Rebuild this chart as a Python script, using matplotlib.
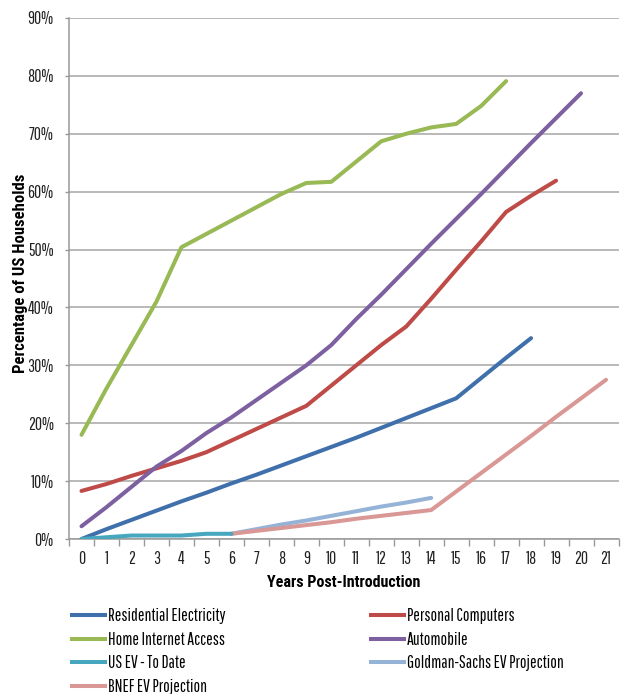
import numpy as np
import matplotlib.pyplot as plt
from matplotlib.lines import Line2D
from matplotlib.ticker import FuncFormatter, FixedLocator

plt.rcParams['font.family'] = ['Pathway Gothic One', 'DejaVu Sans']
title_font = ['Roboto Condensed', 'DejaVu Sans']

# share of US households (%) by years since introduction
electricity = [0, 1.7, 3.3, 4.9, 6.5, 8.0, 9.6, 11.1, 12.7, 14.3, 15.9, 17.5, 19.2,
               20.9, 22.6, 24.3, 27.8, 31.3, 34.7]
computers = [8.3, 9.5, 10.9, 12.2, 13.5, 15.0, 17.0, 19.0, 21.0, 23.0, 26.5, 30.0,
             33.5, 36.7, 41.5, 46.5, 51.4, 56.5, 59.3, 61.9]
internet = [18.0, 26.0, 33.5, 41.0, 50.4, 52.7, 55.0, 57.3, 59.6, 61.5, 61.7, 65.2,
            68.7, 70.0, 71.1, 71.7, 74.8, 79.1]
automobile = [2.2, 5.5, 9.0, 12.5, 15.2, 18.3, 21.0, 24.0, 27.0, 30.0, 33.5, 38.0,
              42.2, 46.6, 51.0, 55.3, 59.6, 64.0, 68.4, 72.7, 77.0]
ev_to_date = [0, 0.3, 0.6, 0.6, 0.6, 0.9, 0.9]
goldman = [0.9, 1.7, 2.5, 3.2, 4.0, 4.8, 5.6, 6.3, 7.1]       # years 6..14
bnef = [0.9, 1.4, 1.9, 2.4, 2.9, 3.5, 4.0, 4.5, 5.0,           # years 6..21
        8.2, 11.4, 14.6, 17.8, 21.1, 24.3, 27.5]

years = np.arange(0, 22)

c_blue = '#3F70AB'
c_red = '#BE4B48'
c_green = '#98B954'
c_purple = '#7D60A0'
c_teal = '#46A7BF'
c_lblue = '#95B3D7'
c_pink = '#D99795'

fig = plt.figure(figsize=(6.22, 6.94), dpi=100)
ax = fig.add_axes([69 / 622, 1 - 539 / 694, (618.5 - 69) / 622, (539 - 18) / 694])

lw = 2.9
series = [
    (computers, 0, c_red),
    (internet, 0, c_green),
    (automobile, 0, c_purple),
    (electricity, 0, c_blue),
    (goldman, 6, c_lblue),
    (bnef, 6, c_pink),
    (ev_to_date, 0, c_teal),
]
for vals, start, col in series:
    x = years[start:start + len(vals)]
    ax.plot(x, vals, color=col, lw=lw, solid_capstyle='round', zorder=3)

ax.set_xlim(-0.5, 21.5)
ax.set_ylim(0, 90)
ax.set_yticks(np.arange(0, 91, 10))
ax.yaxis.set_major_formatter(FuncFormatter(lambda v, p: f'{v:.0f}%'))
ax.set_xticks(years)
ax.xaxis.set_minor_locator(FixedLocator(np.arange(-0.5, 22, 1)))
ax.tick_params(axis='x', which='major', length=0, pad=9, labelsize=12.5, colors='#222222')
ax.tick_params(axis='x', which='minor', length=5, width=1, color='#999999')
ax.tick_params(axis='y', length=3, width=1, color='#999999', pad=8, labelsize=12.5,
               labelcolor='#222222')
ax.grid(axis='y', color='#A6A6A6', lw=1.1)
ax.set_axisbelow(True)
for s in ['top', 'right']:
    ax.spines[s].set_visible(False)
for s in ['left', 'bottom']:
    ax.spines[s].set_color('#999999')
    ax.spines[s].set_linewidth(1.1)

ax.set_xlabel('Years Post-Introduction', fontsize=11.5, fontweight='bold',
              family=title_font)
ax.xaxis.set_label_coords(0.5, (539 - 575) / 521)
ax.set_ylabel('Percentage of US Households', fontsize=12, fontweight='bold',
              family=title_font)
ax.yaxis.set_label_coords((28 - 69) / 549.5, (539 - 273) / 521)

# legend in two columns, read row by row
col1 = [(c_blue, 'Residential Electricity'), (c_green, 'Home Internet Access'),
        (c_teal, 'US EV - To Date'), (c_pink, 'BNEF EV Projection')]
col2 = [(c_red, 'Personal Computers'), (c_purple, 'Automobile'),
        (c_lblue, 'Goldman-Sachs EV Projection')]
for items, x0 in [(col1, 72 / 622), (col2, 371 / 622)]:
    handles = [Line2D([], [], color=c, lw=lw) for c, _ in items]
    labels = [t for _, t in items]
    fig.legend(handles, labels, loc='upper left', bbox_to_anchor=(x0, 1 - 608 / 694),
               frameon=False, fontsize=12.5, handlelength=1.9, handletextpad=0.15,
               labelspacing=0.44, borderaxespad=0, borderpad=0)

fig.savefig('out.png', dpi=100)
